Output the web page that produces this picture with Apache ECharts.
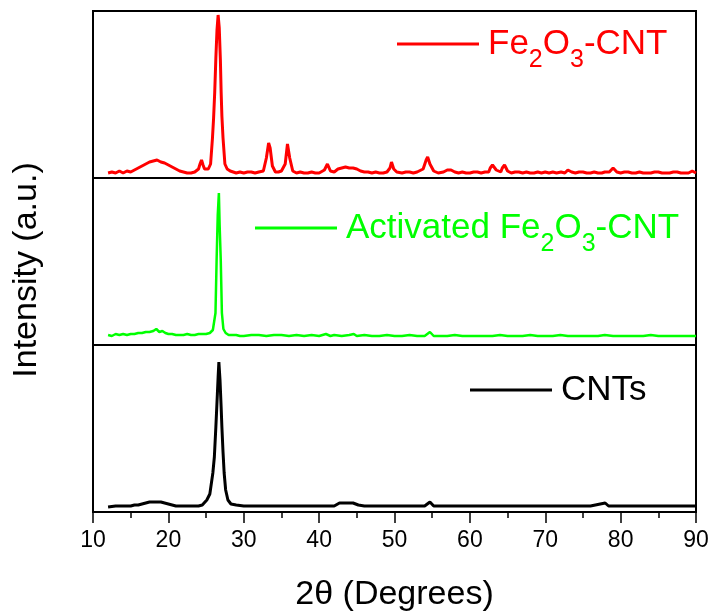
<!DOCTYPE html>
<html>
<head>
<meta charset="utf-8">
<script src="https://cdn.jsdelivr.net/npm/echarts@6/dist/echarts.min.js"></script>
<style>
html,body{margin:0;padding:0;background:#fff;}
#chart{width:713px;height:614px;}
</style>
</head>
<body>
<div id="chart"></div>
<script>
// ---- Data (2θ in degrees, intensity in arbitrary units) ----
const seriesNames = ['Fe2O3-CNT', 'Activated Fe2O3-CNT', 'CNTs'];

const redX = [12,12.5,13,13.5,14,14.5,15,15.5,16,16.5,17,17.5,18,18.5,19,19.5,20,20.5,21,21.5,22,22.5,23,23.5,24,24.2,24.4,24.6,24.8,25.0,25.3,25.6,25.85,26.0,26.15,26.3,26.45,26.6,26.75,26.9,27.0,27.1,27.25,27.5,27.8,28.2,28.6,29,29.5,30,30.5,31,31.5,32,32.6,33.0,33.3,33.5,33.8,34.2,34.6,35.0,35.5,35.8,36.1,36.5,37,37.5,38,38.5,39,39.5,40,40.7,41.1,41.5,42,42.5,43,43.5,44,44.5,45,45.5,46,46.5,47,47.5,48,48.5,49,49.4,49.6,49.9,50.3,51,51.5,52,52.5,53,53.8,54.2,54.4,54.7,55.2,55.8,56,56.5,57,57.5,58,58.5,59,59.5,60,60.5,61,61.5,62,62.5,62.7,63,63.5,64.1,64.3,64.6,65,65.5,66,66.5,67,67.5,68,68.5,69,69.5,70,70.5,71,71.5,72.1,72.6,73,73.5,74,74.5,75,75.5,76,76.5,77,77.5,77.9,78.5,79,79.5,80,80.5,81,81.5,82,82.5,83,83.5,84,84.5,85,85.5,86,86.5,87,87.5,88,88.6,89,89.5,90];
const redY = [5,6,5,7,5,7,6,8,10,12,14,16,17,18,16,15,13,11,9,7,6,5,5,6,9,14,18,13,9,8,9,14,40,60,86,120,148,163,150,118,86,62,40,14,9,7,6,5,6,5,6,6,5,6,7,20,35,30,12,6,6,7,14,34,20,7,5,6,5,5,6,5,5,8,14,7,6,9,10,11,10,10,9,7,6,6,5,6,5,5,6,10,16,9,6,5,6,6,5,6,9,18,21,14,7,5,6,6,8,8,6,5,6,5,5,6,6,5,6,6,10,13,8,6,10,13,7,5,6,6,5,6,5,5,6,5,6,5,6,5,6,5,8,6,5,6,6,5,5,6,5,5,6,6,10,6,5,6,6,5,5,6,5,5,5,6,6,5,5,5,6,6,5,5,5,7,5,5,5];

const greenX = [12,12.5,13,13.5,14,14.5,15,15.5,16,16.5,17,17.5,18,18.4,18.8,19.2,19.6,20,20.5,21,21.5,22,22.5,23,23.5,24,24.5,25,25.5,25.9,26.25,26.4,26.55,26.7,26.8,26.95,27.1,27.3,27.6,28,28.5,29,29.5,30,31,32,33,34,35,36,37,38,39,40,40.9,41.5,42,43,44,44.6,45,46,47,48,49,50,51,52,53,54,54.7,55.2,56,57,58,59,60,61,62,63,64,65,66,67,68,69,70,71,72,73,74,75,76,77,77.9,79,80,81,82,83,84,85,86,87,88,89,90];
const greenY = [10,9,11,10,11,10,11,11,12,12,13,13,14,16,13,14,12,11,11,10,10,10,11,10,10,11,11,11,12,15,32,85,130,152,120,85,32,16,12,10,10,10,9,9,10,10,9,10,10,9,10,9,10,9,11,9,10,9,10,11,9,10,9,9,10,9,9,10,9,9,13,9,9,9,10,9,9,9,9,9,10,9,9,9,10,9,9,9,10,9,9,9,9,9,10,9,9,9,9,9,10,9,9,9,9,9,9];

const blackX = [12,13,14,15,15.5,16,16.5,17,17.5,18,18.5,19,19.5,20,20.5,21,22,23,24,24.5,25.1,25.5,25.9,26.1,26.3,26.5,26.6,26.7,26.85,27.0,27.1,27.25,27.4,27.6,27.9,28.3,29,30,32,34,36,38,40,42,42.7,43.5,44.5,45.2,46,48,50,52,54,54.7,55.2,56,58,60,62,64,66,68,70,72,74,76,77.95,78.4,80,82,84,86,88,90];
const blackY = [5,6,6,6,7,7,8,9,10,10,10,10,9,8,7,6,6,6,6,7,12,18,39,55,85,118,135,150,132,105,85,60,39,22,12,8,7,6,6,6,6,6,6,6,9,9,9,7,6,6,6,6,6,10,6,6,6,6,6,6,6,6,6,6,6,6,9,6,6,6,6,6,6,6];

const xMin = 10, xMax = 90, xInterval = 10;
const yTitle = 'Intensity (a.u.)';
const xTitle = '2\u03B8 (Degrees)';

// ---- Build options ----
const FONT = "'Liberation Sans', Arial, sans-serif";
const colors = ['#ff0000', '#00ff00', '#000000'];
const panelTops = [11, 178, 345];
const panelH = 167;

function zip(xs, ys) { return xs.map((x, i) => [x, ys[i]]); }
const dataSets = [zip(redX, redY), zip(greenX, greenY), zip(blackX, blackY)];

function richFor(color) {
  return {
    p: { fontFamily: FONT, fontSize: 35, color: color, lineHeight: 57, verticalAlign: 'middle', padding: [0, 0, 0, 4] },
    n: { fontFamily: FONT, fontSize: 35, color: color, lineHeight: 57, verticalAlign: 'middle' },
    s: { fontFamily: FONT, fontSize: 25, color: color, lineHeight: 24, verticalAlign: 'bottom' }
  };
}
function fmt(name) {
  // render digits after element symbols as subscripts
  const parts = name.split(/(\d)/);
  let out = '';
  let first = true;
  parts.forEach(p => {
    if (p === '') return;
    if (/^\d$/.test(p)) { out += '{s|' + p + '}'; }
    else { out += (first ? '{p|' : '{n|') + p + '}'; first = false; }
  });
  return out;
}

const legendPos = [
  { left: 397, top: 26.5 },
  { left: 255, top: 210.5 },
  { left: 470, top: 372.5 }
];

const grids = panelTops.map(t => ({
  left: 93, width: 603, top: t, height: panelH,
  show: true, borderColor: '#000', borderWidth: 2, backgroundColor: 'transparent'
}));

const xAxes = panelTops.map((t, i) => {
  const bottom = i === 2;
  return {
    type: 'value', gridIndex: i, min: xMin, max: xMax, interval: xInterval,
    splitLine: { show: false },
    axisLine: { show: bottom, onZero: false, lineStyle: { color: '#000', width: 2 } },
    axisTick: { show: bottom, inside: false, length: 11, lineStyle: { color: '#000', width: 1.5 } },
    minorTick: { show: bottom, splitNumber: 2, length: 6, lineStyle: { color: '#000', width: 1.5 } },
    axisLabel: { show: bottom, fontFamily: FONT, fontSize: 23, color: '#000', margin: 17 },
    name: bottom ? xTitle : '',
    nameLocation: 'middle', nameGap: 66,
    nameTextStyle: { fontFamily: FONT, fontSize: 34, color: '#000' }
  };
});

const yAxes = panelTops.map((t, i) => ({
  type: 'value', gridIndex: i, min: 0, max: panelH,
  axisLine: { show: false }, axisTick: { show: false }, axisLabel: { show: false },
  splitLine: { show: false }
}));

const series = seriesNames.map((name, i) => ({
  name: name, type: 'line', xAxisIndex: i, yAxisIndex: i,
  data: dataSets[i], showSymbol: false, symbol: 'none', animation: false,
  color: colors[i],
  lineStyle: { color: colors[i], width: i === 1 ? 2.5 : 3 }
}));

const legends = seriesNames.map((name, i) => ({
  data: [name], left: legendPos[i].left, top: legendPos[i].top, padding: 0,
  icon: 'rect', itemWidth: 82, itemHeight: 3, selectedMode: false,
  itemStyle: { color: colors[i] },
  formatter: n => fmt(n),
  textStyle: { rich: richFor(colors[i]), color: colors[i] }
}));

const option = {
  backgroundColor: '#fff',
  animation: false,
  grid: grids,
  xAxis: xAxes,
  yAxis: yAxes,
  legend: legends,
  series: series,
  graphic: [{
    type: 'text', x: 27, y: 270, rotation: Math.PI / 2,
    style: { text: yTitle, font: "34px 'Liberation Sans', Arial, sans-serif", fill: '#000', textAlign: 'center', textVerticalAlign: 'middle' }
  }]
};

const chart = echarts.init(document.getElementById('chart'), null, { renderer: 'canvas' });
chart.setOption(option);
</script>
</body>
</html>
